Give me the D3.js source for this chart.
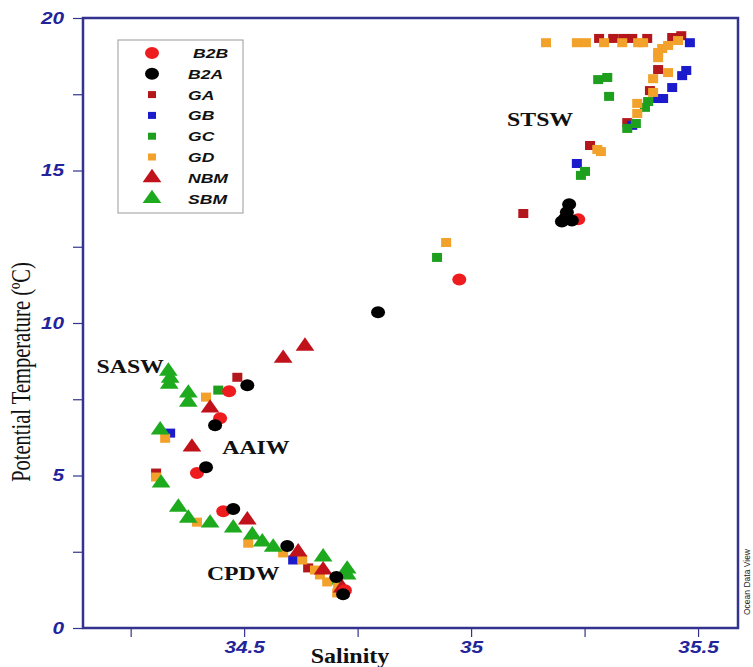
<!DOCTYPE html>
<html lang="en">
  <head>
    <meta charset="UTF-8" />
    <title>Potential Temperature vs Salinity</title>
    <script src="https://d3js.org/d3.v7.min.js"></script>
    <style>
      body {
        margin: 0;
        background-color: #fff;
      }
      .tick-label {
        font-family: Arial, "Liberation Sans", sans-serif;
        font-weight: bold;
        font-style: italic;
        fill: #23239a;
      }
      .mass-label {
        font-family: "Liberation Serif", "Times New Roman", serif;
        font-weight: bold;
        font-size: 19px;
        fill: #111;
      }
      .legend text {
        font-family: Arial, "Liberation Sans", sans-serif;
        font-weight: bold;
        font-style: italic;
        font-size: 13px;
        fill: #111;
      }
    </style>
  </head>
  <body>
    <div class="chart"></div>

    <script>
      // [salinity, potential temperature] pairs
      const B2B = [
        [35.236, 13.4], [34.974, 11.43], [34.467, 7.76], [34.447, 6.88],
        [34.396, 5.08], [34.454, 3.83], [34.722, 1.24]
      ];
      const B2A = [
        [35.216, 13.89], [35.211, 13.63], [35.207, 13.43], [35.2, 13.33],
        [35.222, 13.36], [34.795, 10.35], [34.507, 7.96], [34.436, 6.65],
        [34.416, 5.27], [34.476, 3.9], [34.595, 2.69], [34.703, 1.67],
        [34.718, 1.11]
      ];
      const GA = [
        [35.282, 19.33], [35.313, 19.33], [35.335, 19.33], [35.355, 19.33],
        [35.388, 19.33], [35.443, 19.36], [35.463, 19.42], [35.412, 18.31],
        [35.394, 17.62], [35.344, 16.57], [35.262, 15.82], [35.115, 13.59],
        [34.485, 8.22], [34.306, 5.08], [34.641, 1.97]
      ];
      const GB = [
        [35.482, 19.19], [35.474, 18.28], [35.465, 18.11], [35.443, 17.72],
        [35.423, 17.36], [35.412, 17.36], [35.355, 16.48], [35.233, 15.23],
        [34.337, 6.39], [34.608, 2.23]
      ];
      const GC = [
        [35.28, 17.98], [35.3, 18.05], [35.304, 17.43], [35.39, 17.26],
        [35.383, 17.07], [35.344, 16.38], [35.363, 16.54], [35.251, 14.97],
        [35.242, 14.84], [34.925, 12.15], [34.443, 7.8], [34.7, 1.57]
      ];
      const GD = [
        [35.165, 19.19], [35.233, 19.19], [35.253, 19.19], [35.293, 19.19],
        [35.333, 19.19], [35.368, 19.19], [35.379, 19.19], [35.456, 19.26],
        [35.434, 19.1], [35.421, 19.0], [35.412, 18.87], [35.412, 18.7],
        [35.434, 18.21], [35.401, 18.01], [35.401, 17.56], [35.366, 17.2],
        [35.366, 16.87], [35.278, 15.69], [35.286, 15.62], [34.945, 12.64],
        [34.416, 7.57], [34.326, 6.22], [34.306, 4.95], [34.396, 3.47],
        [34.509, 2.78], [34.586, 2.46], [34.628, 2.23], [34.656, 1.9],
        [34.667, 1.74], [34.683, 1.51], [34.707, 1.34], [34.705, 1.15]
      ];
      const NBM = [
        [34.634, 9.24], [34.586, 8.84], [34.425, 7.21], [34.385, 5.93],
        [34.507, 3.54], [34.619, 2.49], [34.674, 1.9], [34.716, 1.31]
      ];
      const SBM = [
        [34.333, 8.42], [34.337, 8.19], [34.335, 7.99], [34.377, 7.7],
        [34.377, 7.4], [34.315, 6.49], [34.317, 4.75], [34.355, 3.96],
        [34.377, 3.6], [34.425, 3.44], [34.476, 3.28], [34.518, 3.05],
        [34.54, 2.82], [34.564, 2.65], [34.674, 2.33], [34.727, 1.93],
        [34.727, 1.74]
      ];

      const legendNames = ["B2B", "B2A", "GA", "GB", "GC", "GD", "NBM", "SBM"];
      const xTicks = [34.25, 34.5, 34.75, 35, 35.25, 35.5];
      const yTicks = [0, 2.5, 5, 7.5, 10, 12.5, 15, 17.5, 20];
      const waterMasses = [
        { name: "STSW", s: 35.152, t: 16.7 },
        { name: "SASW", s: 34.249, t: 8.58 },
        { name: "AAIW", s: 34.526, t: 5.93 },
        { name: "CPDW", s: 34.498, t: 1.8 }
      ];

      const series = [
        { name: "GA", data: GA, shape: "square", color: "#b3161b" },
        { name: "GB", data: GB, shape: "square", color: "#1b1bcc" },
        { name: "GC", data: GC, shape: "square", color: "#1e9f1e" },
        { name: "GD", data: GD, shape: "square", color: "#f2a12a" },
        { name: "SBM", data: SBM, shape: "triangle", color: "#1eaa1e" },
        { name: "NBM", data: NBM, shape: "triangle", color: "#c1121b" },
        { name: "B2B", data: B2B, shape: "circle", color: "#ee1b1f" },
        { name: "B2A", data: B2A, shape: "circle", color: "#000000" }
      ];
      const byName = new Map(series.map((d) => [d.name, d]));

      const width = 753,
        height = 667;
      const frame = { left: 83, right: 738, top: 18, bottom: 628 };
      const axisColor = "#33338f";

      const svg = d3
        .select(".chart")
        .append("svg")
        .attr("width", width)
        .attr("height", height);

      const x = d3
        .scaleLinear()
        .domain([34.145, 35.588])
        .range([frame.left, frame.right]);
      const y = d3
        .scaleLinear()
        .domain([0, 20])
        .range([frame.bottom, frame.top]);

      // stretch text horizontally, the source figure is a bit wide
      function widen(sel, k) {
        sel.each(function () {
          const w = this.getComputedTextLength();
          d3.select(this)
            .attr("textLength", w * k)
            .attr("lengthAdjust", "spacingAndGlyphs");
        });
      }

      // axes
      const xAxis = svg
        .append("g")
        .attr("transform", `translate(0,${frame.bottom})`)
        .call(
          d3
            .axisBottom(x)
            .tickValues(xTicks)
            .tickSize(9)
            .tickPadding(5)
            .tickFormat((d) => ((d * 100) % 50 === 0 ? String(d) : ""))
        );
      const yAxis = svg
        .append("g")
        .attr("transform", `translate(${frame.left},0)`)
        .call(
          d3
            .axisLeft(y)
            .tickValues(yTicks)
            .tickSize(10)
            .tickPadding(9)
            .tickFormat((d) => (d % 5 === 0 ? String(d) : ""))
        );
      [xAxis, yAxis].forEach((g) => {
        g.select(".domain").remove();
        g.selectAll(".tick line").attr("stroke", axisColor).attr("stroke-width", 1.2);
        g.selectAll(".tick text")
          .attr("class", "tick-label")
          .style("font-size", "16px")
          .call(widen, 1.3);
      });

      svg
        .append("rect")
        .attr("x", frame.left)
        .attr("y", frame.top)
        .attr("width", frame.right - frame.left)
        .attr("height", frame.bottom - frame.top)
        .attr("fill", "none")
        .attr("stroke", axisColor)
        .attr("stroke-width", 2.5);

      // axis titles
      svg
        .append("text")
        .attr("transform", "translate(30,372) scale(1.3,1) rotate(-90)")
        .attr("text-anchor", "middle")
        .style("font-family", "'Liberation Serif', 'Times New Roman', serif")
        .style("font-size", "20.5px")
        .style("fill", "#111")
        .text("Potential Temperature (ºC)");

      svg
        .append("text")
        .attr("x", 350)
        .attr("y", 663)
        .attr("text-anchor", "middle")
        .style("font-family", "'Liberation Serif', 'Times New Roman', serif")
        .style("font-weight", "bold")
        .style("font-size", "20px")
        .style("fill", "#111")
        .text("Salinity")
        .call(widen, 1.2);

      svg
        .append("text")
        .attr("transform", "translate(750,582) rotate(-90)")
        .attr("text-anchor", "middle")
        .style("font-family", "Arial, sans-serif")
        .style("font-size", "8.5px")
        .style("fill", "#222")
        .text("Ocean Data View");

      // marker drawing
      const triPath = d3.symbol(d3.symbolTriangle, 115)();
      function drawMarker(g, shape, color) {
        if (shape === "circle") {
          g.append("ellipse").attr("rx", 7).attr("ry", 6).attr("fill", color);
        } else if (shape === "square") {
          g.append("rect")
            .attr("x", -5)
            .attr("y", -4.5)
            .attr("width", 10)
            .attr("height", 9)
            .attr("fill", color);
        } else {
          g.append("path")
            .attr("d", triPath)
            .attr("transform", "scale(1.15,0.95)")
            .attr("fill", color);
        }
      }

      series.forEach((s) => {
        svg
          .append("g")
          .attr("class", "series")
          .selectAll("g")
          .data(s.data)
          .enter()
          .append("g")
          .attr("transform", (d) => `translate(${x(d[0])},${y(d[1])})`)
          .each(function () {
            drawMarker(d3.select(this), s.shape, s.color);
          });
      });

      // water mass labels
      svg
        .selectAll(".mass-label")
        .data(waterMasses)
        .enter()
        .append("text")
        .attr("class", "mass-label")
        .attr("x", (d) => x(d.s))
        .attr("y", (d) => y(d.t) + 7)
        .attr("text-anchor", "middle")
        .text((d) => d.name)
        .call(widen, 1.25);

      // legend
      const legendBox = { x: 118, y: 40, w: 125, h: 173 };
      const legend = svg
        .append("g")
        .attr("class", "legend")
        .attr("transform", `translate(${legendBox.x},${legendBox.y})`);
      legend
        .append("rect")
        .attr("width", legendBox.w)
        .attr("height", legendBox.h)
        .attr("fill", "#fff")
        .attr("stroke", "#9a9a9a")
        .attr("stroke-width", 1);

      const rows = legend
        .selectAll(".row")
        .data(legendNames)
        .enter()
        .append("g")
        .attr("class", "row")
        .attr("transform", (d, i) => `translate(0,${13 + i * 20.8})`);
      rows.each(function (name) {
        const s = byName.get(name);
        const m = d3.select(this).append("g").attr("transform", "translate(34,0)");
        if (s.shape === "square") {
          m.append("rect")
            .attr("x", -4)
            .attr("y", -3.5)
            .attr("width", 8)
            .attr("height", 7)
            .attr("fill", s.color);
        } else {
          drawMarker(m, s.shape, s.color);
        }
      });
      rows
        .append("text")
        .attr("x", (d) => (d === "B2B" ? 75 : 70))
        .attr("y", 5)
        .text((d) => d)
        .call(widen, 1.35);
    </script>
  </body>
</html>
